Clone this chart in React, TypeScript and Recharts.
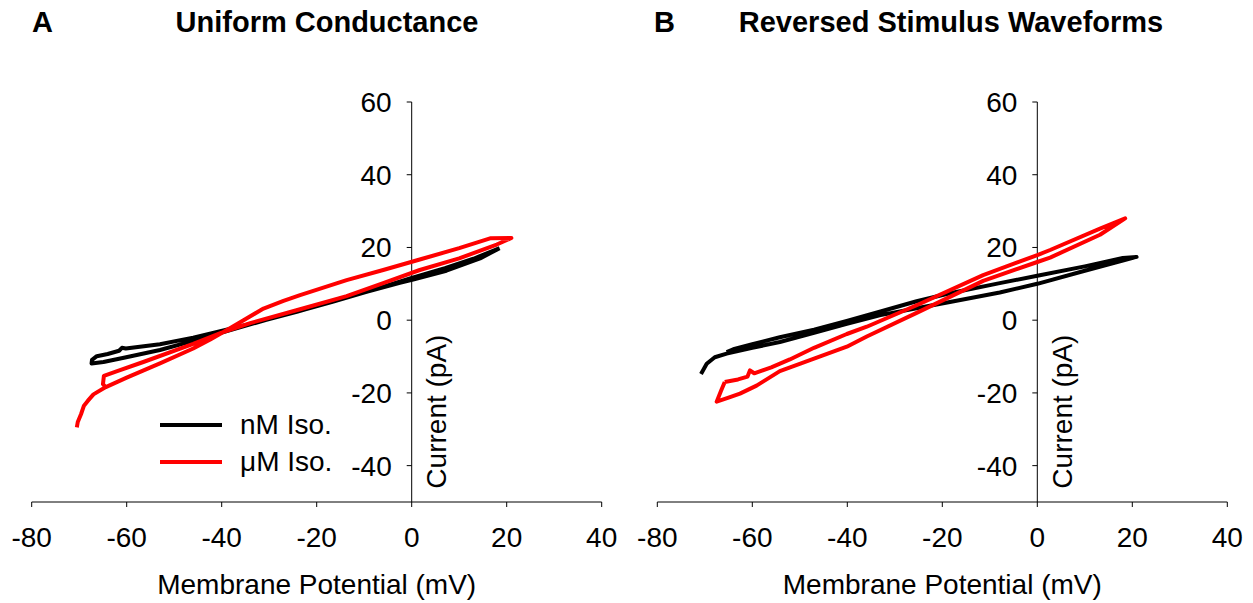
import { LineChart, Line, XAxis, YAxis, ReferenceLine, Legend, Label } from "recharts";

// tick values
const xTicks = [-80, -60, -40, -20, 0, 20, 40];
const yTicks = [-40, -20, 0, 20, 40, 60];

// [membrane potential (mV), current (pA)]
const uniformNm: [number, number][] = [
  [18.5, 19.8], [14.4, 17.0], [7.3, 13.6], [0.3, 11.2], [-2.5, 10.3], [-9.5, 7.8],
  [-16.5, 5.1], [-23.5, 2.6], [-30.6, 0.1], [-38.9, -3.0], [-46, -5.7], [-53, -8.2],
  [-60.1, -10.2], [-64.9, -11.5], [-67.4, -11.9], [-67.3, -10.9], [-66.3, -9.9],
  [-64, -9.3], [-61.6, -8.4], [-61, -7.6], [-60.2, -7.8], [-53, -6.6], [-46, -4.8],
  [-39, -2.6], [-32, -0.4], [-24, 2.4], [-16, 5.4], [-8, 8.4], [0, 11.6], [7, 14.3],
  [13, 16.9], [17.5, 19.3], [18.5, 19.8],
];

const uniformUm: [number, number][] = [
  [-70.5, -29.5], [-70.3, -28.0], [-69.6, -25.8], [-69.0, -23.5], [-68.2, -22.2],
  [-67.0, -20.4], [-64.4, -18.4], [-60, -15.8], [-53, -11.9], [-46, -7.8], [-42.5, -5.4],
  [-38, -2.0], [-35.4, 0.0], [-31.2, 3.2], [-27, 5.3], [-23.5, 6.9], [-13.7, 11.0],
  [-6, 13.8], [1.7, 16.7], [10, 19.8], [16.5, 22.5], [21, 22.6], [17.9, 20.8], [10, 17.0],
  [1.7, 13.8], [-6, 10.2], [-13.7, 6.6], [-23.5, 3.0], [-34, -0.8], [-40, -3.4],
  [-46, -6.5], [-56.5, -11.5], [-62, -14.0], [-64.8, -15.3], [-65.0, -17.6], [-64.4, -18.4],
];

const reversedNm: [number, number][] = [
  [-70.8, -14.8], [-69.6, -12.0], [-67.9, -10.2], [-65.4, -9.2], [-60, -7.6], [-54.2, -6.0],
  [-47, -3.5], [-40.1, -1.0], [-33, 1.4], [-25.4, 3.3], [-18.4, 5.0], [-7.9, 7.6], [0, 10.0],
  [10, 13.6], [18, 16.4], [20.9, 17.4], [18, 17.1], [10, 14.8], [0, 12.2], [-7.9, 10.2],
  [-18.4, 7.4], [-25.4, 5.2], [-33, 2.4], [-40.1, -0.2], [-47, -2.6], [-54.2, -4.7],
  [-60, -6.6], [-64, -8.0], [-65.4, -8.8],
];

const reversedUm: [number, number][] = [
  [-65.8, -17.0], [-66.6, -19.5], [-67.5, -22.4], [-65, -21.3], [-62.6, -20.2],
  [-59.1, -18.0], [-54.2, -14.0], [-47, -10.6], [-40.1, -7.3], [-35.9, -4.5], [-25.4, 2.0],
  [-11.4, 10.8], [0, 16.0], [2.7, 17.2], [13.2, 23.5], [18.5, 28.0], [13.2, 25.2],
  [2.7, 19.3], [0, 17.9], [-11.4, 12.4], [-25.4, 4.1], [-35.9, -1.8], [-40.1, -3.8],
  [-47, -7.6], [-52.1, -10.8], [-56, -13.0], [-59.6, -14.6], [-60.5, -13.8], [-61.0, -15.5],
  [-63, -16.3], [-65.8, -17.0],
];

const seriesNames = ["nM Iso.", "\u03BCM Iso."];
const seriesColors = ["#000000", "#FF0000"];

const toRows = (pts: [number, number][]) => pts.map(([v, i]) => ({ v, i }));

const FONT = "'Liberation Sans', Arial, sans-serif";
const TICK_LEN = 1.05; // mV, ~5px

const currentLabel = (props: any) => {
  const vb = props.viewBox || {};
  const x = (vb.x ?? vb.x1) + 25;
  const y = (vb.y ?? vb.y1) + (vb.height ?? 400) * 0.774;
  return (
    <text
      x={x}
      y={y}
      transform={`rotate(-90 ${x} ${y})`}
      textAnchor="middle"
      dominantBaseline="central"
      fontSize={28}
      fill="#000"
    >
      Current (pA)
    </text>
  );
};

const renderLegend = ({ payload }: any) => (
  <div>
    {(payload || []).map((p: any) => (
      <div key={p.value} style={{ display: "flex", alignItems: "center", height: 37 }}>
        <div style={{ width: 62, height: 4, background: p.color, marginRight: 18 }} />
        <span style={{ fontSize: 28, lineHeight: "37px", color: "#000" }}>{p.value}</span>
      </div>
    ))}
  </div>
);

interface PanelProps {
  left: number;
  width: number;
  marginLeft: number;
  marginRight: number;
  nm: [number, number][];
  um: [number, number][];
  showLegend?: boolean;
}

function Panel({ left, width, marginLeft, marginRight, nm, um, showLegend }: PanelProps) {
  return (
    <div style={{ position: "absolute", left, top: 0 }}>
      <LineChart
        width={width}
        height={603}
        margin={{ top: 102, right: marginRight, bottom: 5, left: marginLeft }}
      >
        <XAxis
          type="number"
          dataKey="v"
          domain={[-80, 40]}
          ticks={xTicks}
          interval={0}
          allowDataOverflow
          height={96}
          stroke="#000"
          tickSize={5}
          tickMargin={20}
          tick={{ fontSize: 28, fill: "#000" }}
        >
          <Label
            value="Membrane Potential (mV)"
            position="insideBottom"
            offset={4}
            fontSize={28}
            fill="#000"
          />
        </XAxis>
        <YAxis type="number" dataKey="i" domain={[-50, 60]} allowDataOverflow hide />

        <ReferenceLine
          segment={[{ x: 0, y: -50 }, { x: 0, y: 60 }]}
          stroke="#000"
          strokeWidth={1}
          label={{ content: currentLabel }}
        />
        {yTicks.map((t) => (
          <ReferenceLine
            key={t}
            segment={[{ x: -TICK_LEN, y: t }, { x: 0, y: t }]}
            stroke="#000"
            strokeWidth={1}
            label={{ value: String(t), position: "left", offset: 15, fontSize: 28, fill: "#000" }}
          />
        ))}

        <Line
          data={toRows(nm)}
          dataKey="i"
          name={seriesNames[0]}
          stroke={seriesColors[0]}
          strokeWidth={4}
          strokeLinejoin="round"
          type="linear"
          dot={false}
          activeDot={false}
          isAnimationActive={false}
        />
        <Line
          data={toRows(um)}
          dataKey="i"
          name={seriesNames[1]}
          stroke={seriesColors[1]}
          strokeWidth={4}
          strokeLinejoin="round"
          type="linear"
          dot={false}
          activeDot={false}
          isAnimationActive={false}
        />
        {showLegend && (
          <Legend
            layout="horizontal"
            align="center"
            verticalAlign="middle"
            wrapperStyle={{ left: 160, top: 406, width: 260, height: 74 }}
            content={renderLegend}
          />
        )}
      </LineChart>
    </div>
  );
}

const titleStyle = {
  position: "absolute" as const,
  top: 8,
  fontSize: 29,
  lineHeight: "29px",
  fontWeight: 700,
  whiteSpace: "nowrap" as const,
  color: "#000",
};

export default function App() {
  return (
    <div
      style={{
        position: "absolute",
        left: 0,
        top: 0,
        width: 1253,
        height: 603,
        background: "#fff",
        fontFamily: FONT,
      }}
    >
      <Panel left={0} width={626} marginLeft={31.7} marginRight={24.3} nm={uniformNm} um={uniformUm} showLegend />
      <Panel left={626} width={627} marginLeft={31.3} marginRight={25.7} nm={reversedNm} um={reversedUm} />

      <div style={{ ...titleStyle, left: 32 }}>A</div>
      <div style={{ ...titleStyle, left: 327, transform: "translateX(-50%)" }}>Uniform Conductance</div>
      <div style={{ ...titleStyle, left: 654 }}>B</div>
      <div style={{ ...titleStyle, left: 951, transform: "translateX(-50%)" }}>Reversed Stimulus Waveforms</div>
    </div>
  );
}
